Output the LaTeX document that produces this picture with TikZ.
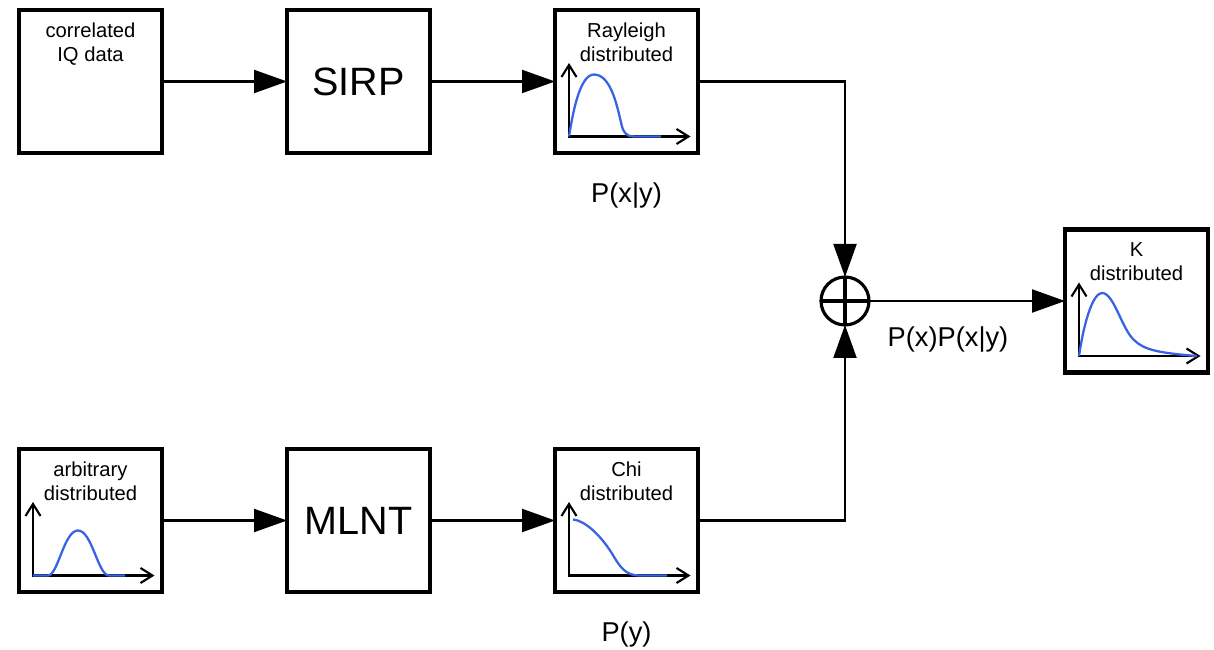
\documentclass[tikz,border=0pt]{standalone}
\usepackage{fontspec}
\setmainfont{Liberation Sans}
\usetikzlibrary{arrows.meta, positioning, calc}
\definecolor{pdfblue}{RGB}{58,98,228}

\begin{document}
\begin{tikzpicture}[
  node distance = 5.92cm and 2.5cm,
  blk/.style  = {rectangle, draw, line width=2.3pt,
                 minimum width=2.86cm, minimum height=2.86cm,
                 inner sep=0pt, outer sep=0pt},
  txt/.style  = {font=\fontsize{11.5}{13.6}\selectfont, align=center,
                 inner sep=0pt, anchor=north},
  big/.style  = {font=\fontsize{22.5}{26}\selectfont},
  lbl/.style  = {font=\fontsize{15.5}{18}\selectfont, inner sep=0pt},
  arr/.style  = {-{Triangle[length=0.66cm, width=0.46cm]}, line width=1.2pt},
  axis/.style = {{Straight Barb[length=0.24cm, width=0.3cm]}-{Straight Barb[length=0.24cm, width=0.3cm]},
                 line width=1.2pt},
  pdf/.style  = {pdfblue, line width=1.3pt},
  sum/.style  = {circle, draw, line width=1.8pt, minimum size=0.96cm,
                 inner sep=0pt, outer sep=0pt},
]

\useasboundingbox (0,0) rectangle (24.28,-13);

% ── Upper row: SIRP path ──────────────────────────────────────────────────────
\node[blk] (iq) at (1.81,-1.63) {};
\node[txt] (iqtxt) at ([yshift=-0.26cm]iq.north) {correlated\\IQ data};

\node[blk, big, right=of iq] (sirp) {SIRP};

\node[blk, right=of sirp] (rayl) {};
\node[txt] (rayltxt) at ([yshift=-0.26cm]rayl.north) {Rayleigh\\distributed};
\node[lbl, below=0.58cm of rayl] (pxy) {P(x|y)};

% ── Lower row: MLNT path ──────────────────────────────────────────────────────
\node[blk, below=of iq] (arb) {};
\node[txt] (arbtxt) at ([yshift=-0.26cm]arb.north) {arbitrary\\distributed};

\node[blk, big, right=of arb] (mlnt) {MLNT};

\node[blk, right=of mlnt] (chi) {};
\node[txt] (chitxt) at ([yshift=-0.26cm]chi.north) {Chi\\distributed};
\node[lbl, below=0.58cm of chi] (py) {P(y)};

% ── Combination and output ────────────────────────────────────────────────────
\node[sum] (sum) at ($(rayl.center)!0.5!(chi.center) + (4.37,0)$) {};
\draw[line width=1.8pt] (sum.north) -- (sum.south) (sum.west) -- (sum.east);

\node[blk, right=3.92cm of sum] (kd) {};
\node[txt] (kdtxt) at ([yshift=-0.26cm]kd.north) {K\\distributed};
\node[lbl, anchor=north] (pxpxy) at ([xshift=1.58cm, yshift=-0.5cm]sum.east) {P(x)P(x|y)};

% ── Arrows ────────────────────────────────────────────────────────────────────
\draw[arr] (iq)   -- (sirp);
\draw[arr] (sirp) -- (rayl);
\draw[arr] (arb)  -- (mlnt);
\draw[arr] (mlnt) -- (chi);
\draw[arr] (rayl.east) -| (sum.north);
\draw[arr] (chi.east)  -| (sum.south);
\draw[arr] (sum)  -- (kd);

% ── Small density plots ───────────────────────────────────────────────────────
\foreach \b in {rayl, arb, chi, kd}
  \draw[axis] ([shift={(-1.15,0.37)}]\b.center) |- ([shift={(1.28,-1.1)}]\b.center);

\begin{scope}[shift={(rayl.center)}, shift={(-1.15,-1.1)}]
  \draw[pdf] (0,0) .. controls (0.08,0.5) and (0.22,1.24) .. (0.5,1.24)
    .. controls (0.9,1.24) and (1.0,0.35) .. (1.08,0.14)
    .. controls (1.15,0.01) and (1.2,0) .. (1.34,0) -- (1.84,0);
\end{scope}

\begin{scope}[shift={(arb.center)}, shift={(-1.15,-1.1)}]
  \draw[pdf] (0,0) -- (0.3,0) .. controls (0.5,0) and (0.62,0.9) .. (0.9,0.9)
    .. controls (1.18,0.9) and (1.3,0) .. (1.52,0) -- (1.84,0);
\end{scope}

\begin{scope}[shift={(chi.center)}, shift={(-1.15,-1.1)}]
  \draw[pdf] (0.08,1.12) .. controls (0.3,1.1) and (0.6,0.85) .. (0.86,0.44)
    .. controls (1.0,0.2) and (1.12,0) .. (1.4,0) -- (1.96,0);
\end{scope}

\begin{scope}[shift={(kd.center)}, shift={(-1.15,-1.1)}]
  \draw[pdf] (0,0) .. controls (0.12,0.8) and (0.3,1.26) .. (0.46,1.26)
    .. controls (0.7,1.26) and (0.85,0.55) .. (1.1,0.32)
    .. controls (1.3,0.12) and (1.6,0.06) .. (2.36,0);
\end{scope}

\end{tikzpicture}
\end{document}
